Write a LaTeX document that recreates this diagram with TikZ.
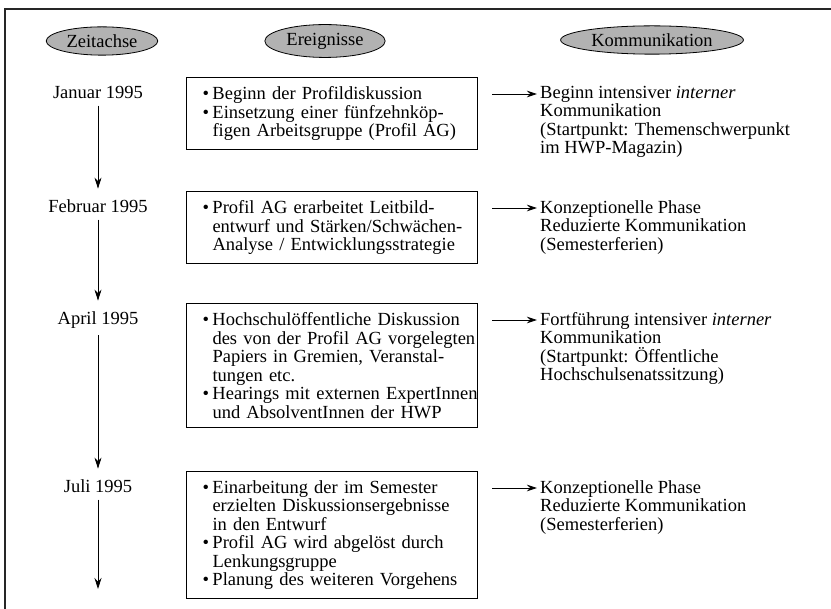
\documentclass[tikz,border=0pt]{standalone}
\usepackage{fontspec}
\setmainfont{Liberation Serif}
\usetikzlibrary{arrows.meta}
\usetikzlibrary{shapes.geometric}

\tikzset{
  headline/.style={ellipse, draw, fill=black!30, line width=0.8pt, inner xsep=4pt, inner ysep=3.5pt},
  eventbox/.style={draw, line width=1pt, anchor=north west, text width=287pt, align=left, inner xsep=2pt, inner ysep=9pt},
  commtext/.style={anchor=north west, align=left, inner sep=0pt},
  datelabel/.style={anchor=base},
  timearrow/.style={-{Stealth[length=11pt,width=7pt]}, line width=0.8pt, shorten <=3pt, shorten >=8pt},
  commarrow/.style={-{Stealth[length=10pt,width=6.5pt]}, line width=0.8pt}
}
\newcommand{\itm}{\makebox[24pt][l]{\hspace{14pt}\textbullet}}
\newcommand{\cnt}{\hspace*{24pt}}

\begin{document}
\begin{tikzpicture}[x=1pt,y=-1pt,font=\fontsize{18.5}{18.5}\selectfont]
  \useasboundingbox (0,0) rectangle (831,609);
  % frame
  \draw[line width=1.3pt,black!85] (5,609) -- (5,9) -- (831,9);
  % column heads
  \node[headline] (hzeit) at (102,41) {Zeitachse};
  \node[headline] (hereig) at (325,41) {Ereignisse};
  \node[headline] (hkomm) at (652,40) {Kommunikation};
  % time axis
  \node[datelabel] (d1) at (98,99) {Januar 1995};
  \node[datelabel] (d2) at (98,213) {Februar 1995};
  \node[datelabel] (d3) at (98,325) {April 1995};
  \node[datelabel] (d4) at (98,493) {Juli 1995};
  \coordinate (dend) at (98,589);
  % events
  \node[eventbox] (b1) at (186,77) {\itm Beginn der Profildiskussion\\
    \itm Einsetzung einer fünfzehnköp-\\
    \cnt figen Arbeitsgruppe (Profil AG)};
  \node[eventbox] (b2) at (186,191) {\itm Profil AG erarbeitet Leitbild-\\
    \cnt entwurf und Stärken/Schwächen-\\
    \cnt Analyse / Entwicklungsstrategie};
  \node[eventbox] (b3) at (186,303) {\itm Hochschulöffentliche Diskussion\\
    \cnt des von der Profil AG vorgelegten\\
    \cnt Papiers in Gremien, Veranstal-\\
    \cnt tungen etc.\\
    \itm \mbox{Hearings mit externen ExpertInnen}\\
    \cnt und AbsolventInnen der HWP};
  \node[eventbox] (b4) at (186,471) {\itm Einarbeitung der im Semester\\
    \cnt erzielten Diskussionsergebnisse\\
    \cnt in den Entwurf\\
    \itm Profil AG wird abgelöst durch\\
    \cnt Lenkungsgruppe\\
    \itm Planung des weiteren Vorgehens};
  % communication
  \node[commtext] (c1) at (540,86) {Beginn intensiver \textit{interner}\\
    Kommunikation\\
    (Startpunkt: Themenschwerpunkt\\
    im HWP-Magazin)};
  \node[commtext] (c2) at (540,200) {Konzeptionelle Phase\\
    Reduzierte Kommunikation\\
    (Semesterferien)};
  \node[commtext] (c3) at (540,312) {Fortführung intensiver \textit{interner}\\
    Kommunikation\\
    (Startpunkt: Öffentliche\\
    Hochschulsenatssitzung)};
  \node[commtext] (c4) at (540,480) {Konzeptionelle Phase\\
    Reduzierte Kommunikation\\
    (Semesterferien)};
  % arrows
  \draw[timearrow] (d1) -- (d2);
  \draw[timearrow] (d2) -- (d3);
  \draw[timearrow] (d3) -- (d4);
  \draw[timearrow,shorten >=0pt] (d4) -- (dend);
  \foreach \i in {1,...,4}
    \draw[commarrow] ([shift={(14pt,-17pt)}]b\i.north east) -- ([shift={(-3pt,-8pt)}]c\i.north west);
\end{tikzpicture}
\end{document}
